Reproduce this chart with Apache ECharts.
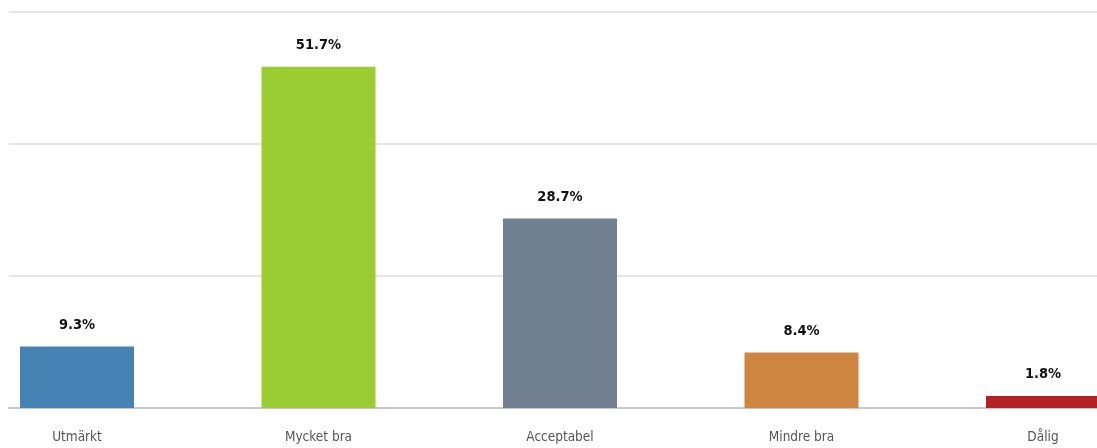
<!DOCTYPE html>
<html>
<head>
<meta charset="utf-8">
<script src="https://cdn.jsdelivr.net/npm/echarts@6/dist/echarts.min.js"></script>
<style>
  html, body { margin: 0; padding: 0; background: #fff; }
  #chart { width: 1097px; height: 448px; }
</style>
</head>
<body>
<div id="chart"></div>
<script>
// betyg och andel svar
const categories = ['Utmärkt', 'Mycket bra', 'Acceptabel', 'Mindre bra', 'Dålig'];
const values = [9.3, 51.7, 28.7, 8.4, 1.8];
const barColors = ['#4682b4', '#9acd32', '#708090', '#cd853f', '#b22222'];

const narrow = '"DejaVu Sans Condensed", "Liberation Sans Narrow", sans-serif';

let chart = echarts.init(document.getElementById('chart'));

let option = {
  animation: false,
  grid: [
    // staplarna, kategorierna ligger på ändpunkterna
    { left: 77, right: 54, top: 12, bottom: 40 },
    // rutnätet
    { left: 9, right: 0, top: 12, bottom: 40 }
  ],
  xAxis: [
    {
      gridIndex: 0,
      type: 'category',
      data: categories,
      boundaryGap: false,
      axisLine: { show: false },
      axisTick: { show: false },
      splitLine: { show: false },
      axisLabel: {
        color: '#555',
        fontFamily: narrow,
        fontSize: 13.5,
        margin: 22
      }
    },
    {
      gridIndex: 1,
      type: 'value',
      min: 0,
      max: 1,
      axisLine: { show: true, onZero: false, lineStyle: { color: '#c8c8c8', width: 2 } },
      axisTick: { show: false },
      axisLabel: { show: false },
      splitLine: { show: false }
    }
  ],
  yAxis: [
    {
      gridIndex: 0,
      type: 'value',
      min: 0,
      max: 60,
      interval: 20,
      axisLabel: { show: false },
      axisLine: { show: false },
      axisTick: { show: false },
      splitLine: { show: false }
    },
    {
      gridIndex: 1,
      type: 'value',
      min: 0,
      max: 60,
      interval: 20,
      axisLabel: { show: false },
      axisLine: { show: false },
      axisTick: { show: false },
      splitLine: { show: true, lineStyle: { color: '#e6e6e6', width: 2 } }
    }
  ],
  series: [
    {
      type: 'bar',
      xAxisIndex: 0,
      yAxisIndex: 0,
      barWidth: 114,
      clip: false,
      data: values.map((v, i) => ({ value: v, itemStyle: { color: barColors[i] } })),
      label: {
        show: true,
        position: 'top',
        distance: 14,
        formatter: p => p.value + '%',
        color: '#111',
        fontWeight: 'bold',
        fontSize: 14.5,
        fontFamily: narrow
      }
    }
  ]
};

chart.setOption(option);
</script>
</body>
</html>
